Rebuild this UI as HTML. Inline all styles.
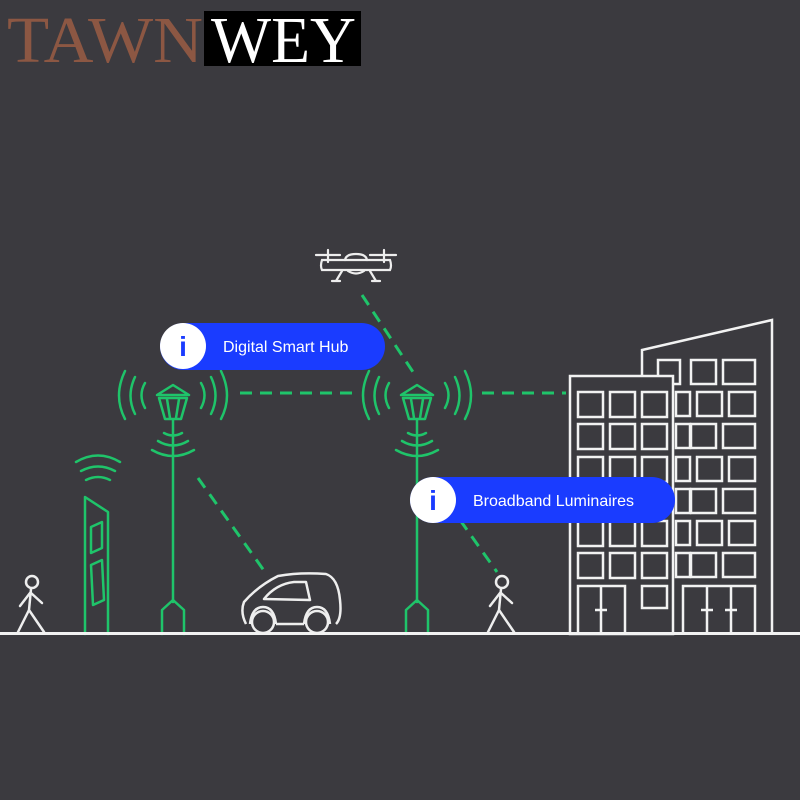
<!DOCTYPE html>
<html><head><meta charset="utf-8"><style>
html,body{margin:0;padding:0;background:#3b3a3f;width:800px;height:800px;overflow:hidden}
svg{display:block}
</style></head><body>
<svg width="800" height="800" viewBox="0 0 800 800" xmlns="http://www.w3.org/2000/svg">
<rect width="800" height="800" fill="#3b3a3f"/>
<!-- logo -->
<text x="7" y="62" font-family="Liberation Serif, serif" font-size="66" fill="#8c5743" textLength="196" lengthAdjust="spacingAndGlyphs">TAWN</text>
<rect x="204" y="11" width="157" height="55" fill="#000"/>
<text x="211" y="62" font-family="Liberation Serif, serif" font-size="66" fill="#fff" textLength="145" lengthAdjust="spacingAndGlyphs">WEY</text>

<!-- dashed lines -->
<g stroke="#1fc46a" stroke-width="3" stroke-dasharray="12 8" fill="none">
<line x1="240" y1="393" x2="352" y2="393"/>
<line x1="482" y1="393" x2="566" y2="393"/>
<line x1="362" y1="295" x2="415" y2="375"/>
<line x1="198" y1="478" x2="265" y2="572"/>
<line x1="460" y1="520" x2="497" y2="572"/>
</g>

<!-- lamps -->
<g stroke="#1fc46a" stroke-width="2.5" fill="none" stroke-linecap="round" stroke-linejoin="round">
<g id="lampL">
<path d="M157 395 L173 385 L189 395 Z"/>
<path d="M159 398 L187 398 L181 419 L165 419 Z M167 399 L170 418 M179 399 L176 418"/>
<line x1="173" y1="420" x2="173" y2="602"/>
<path d="M162 634 L162 610 L173 600 L184 610 L184 634"/>
<path d="M164 433 Q173 438 182 433 M158 441 Q173 450 188 441 M152 450 Q173 462 194 450"/>
<path d="M145 383 Q138 395 145 408 M135 377 Q126 396 135 414 M125 371 Q113 396 125 419"/>
<path d="M201 383 Q208 395 201 408 M211 377 Q220 396 211 414 M221 371 Q233 396 221 419"/>
</g>
<use href="#lampL" transform="translate(244,0)"/>
<!-- kiosk -->
<path d="M85 634 L85 497 L108 512 L108 634"/>
<path d="M91 527 L102 522 L102 548 L91 553 Z"/>
<path d="M91 565 L102 560 L104 600 L93 605 Z"/>
<path d="M86 480 Q98 474 110 480 M81 471 Q98 462 115 471 M76 462 Q98 449 120 462"/>
</g>

<!-- pills -->
<rect x="160" y="323" width="225" height="47" rx="23.5" fill="#1a3cff"/>
<circle cx="183" cy="346" r="23" fill="#fff"/>
<text x="183" y="356" text-anchor="middle" font-family="Liberation Sans, sans-serif" font-weight="bold" font-size="28" fill="#1a3cff">i</text>
<text x="223" y="352" font-family="Liberation Sans, sans-serif" font-size="16" fill="#fff">Digital Smart Hub</text>

<!-- buildings -->
<g stroke="#f2f2f2" stroke-width="2.5" fill="none">
<path d="M642 376 L642 350 L772 320 L772 634"/>
<g>
<rect x="658" y="360" width="22" height="24"/><rect x="691" y="360" width="25" height="24"/><rect x="723" y="360" width="32" height="24"/>
<rect x="676" y="392" width="14" height="24"/><rect x="697" y="392" width="25" height="24"/><rect x="729" y="392" width="26" height="24"/>
<rect x="676" y="424" width="14" height="24"/><rect x="691" y="424" width="25" height="24"/><rect x="723" y="424" width="32" height="24"/>
<rect x="676" y="457" width="14" height="24"/><rect x="697" y="457" width="25" height="24"/><rect x="729" y="457" width="26" height="24"/>
<rect x="676" y="489" width="14" height="24"/><rect x="691" y="489" width="25" height="24"/><rect x="723" y="489" width="32" height="24"/>
<rect x="676" y="521" width="14" height="24"/><rect x="697" y="521" width="25" height="24"/><rect x="729" y="521" width="26" height="24"/>
<rect x="676" y="553" width="14" height="24"/><rect x="691" y="553" width="25" height="24"/><rect x="723" y="553" width="32" height="24"/>
<path d="M683 634 L683 586 L755 586 L755 634 M707 586 L707 634 M731 586 L731 634 M701 610 L713 610 M725 610 L737 610"/>
</g>
<rect x="570" y="376" width="103" height="258" fill="#3b3a3f"/>
<g>
<rect x="578" y="392" width="25" height="25"/><rect x="610" y="392" width="25" height="25"/><rect x="642" y="392" width="25" height="25"/>
<rect x="578" y="424" width="25" height="25"/><rect x="610" y="424" width="25" height="25"/><rect x="642" y="424" width="25" height="25"/>
<rect x="578" y="457" width="25" height="25"/><rect x="610" y="457" width="25" height="25"/><rect x="642" y="457" width="25" height="25"/>
<rect x="578" y="489" width="25" height="25"/><rect x="610" y="489" width="25" height="25"/><rect x="642" y="489" width="25" height="25"/>
<rect x="578" y="521" width="25" height="25"/><rect x="610" y="521" width="25" height="25"/><rect x="642" y="521" width="25" height="25"/>
<rect x="578" y="553" width="25" height="25"/><rect x="610" y="553" width="25" height="25"/><rect x="642" y="553" width="25" height="25"/>
<rect x="642" y="586" width="25" height="22"/>
<path d="M578 634 L578 586 L625 586 L625 634 M601 586 L601 634 M595 610 L607 610"/>
</g>
</g>

<rect x="410" y="477" width="265" height="46" rx="23" fill="#1a3cff"/>
<circle cx="433" cy="500" r="23" fill="#fff"/>
<text x="433" y="510" text-anchor="middle" font-family="Liberation Sans, sans-serif" font-weight="bold" font-size="28" fill="#1a3cff">i</text>
<text x="473" y="506" font-family="Liberation Sans, sans-serif" font-size="16" fill="#fff">Broadband Luminaires</text>

<!-- drone -->
<g stroke="#eee" stroke-width="2.2" fill="none" stroke-linecap="round">
<path d="M316 255 L340 255 M370 255 L396 255 M328 250 L328 262 M384 250 L384 262"/>
<path d="M322 260 L390 260 Q392 266 390 270 L322 270 Q320 266 322 260 Z"/>
<path d="M345 260 Q346 254 356 254 Q366 254 367 260"/>
<path d="M342 271 L336 281 M370 271 L376 281 M332 281 L340 281 M372 281 L380 281 M348 271 Q356 276 364 271"/>
</g>

<!-- car -->
<g stroke="#eee" stroke-width="2.5" fill="none" stroke-linejoin="round">
<path d="M246 624 Q240 612 244 602 Q258 586 278 576 Q300 572 326 574 Q338 578 340 600 Q342 618 336 624"/>
<path d="M264 599 Q276 584 294 582 L306 582 L310 600 Z"/>
<circle cx="263" cy="622" r="11"/><circle cx="317" cy="622" r="11"/>
<path d="M250 624 Q252 607 263 607 Q274 607 276 624 M304 624 Q306 607 317 607 Q328 607 330 624 M276 624 L304 624"/>
</g>

<!-- pedestrians -->
<g id="ped" stroke="#eee" stroke-width="2.5" fill="none" stroke-linecap="round" stroke-linejoin="round">
<circle cx="32" cy="582" r="6"/>
<path d="M31 589 L29 610 M30 593 L20 606 M31 593 L42 603 M29 610 L18 632 M29 610 L44 632"/>
</g>
<use href="#ped" transform="translate(470,0)"/>

<!-- ground -->
<rect x="0" y="632" width="800" height="3" fill="#f2f2f2"/>
</svg>
</body></html>
